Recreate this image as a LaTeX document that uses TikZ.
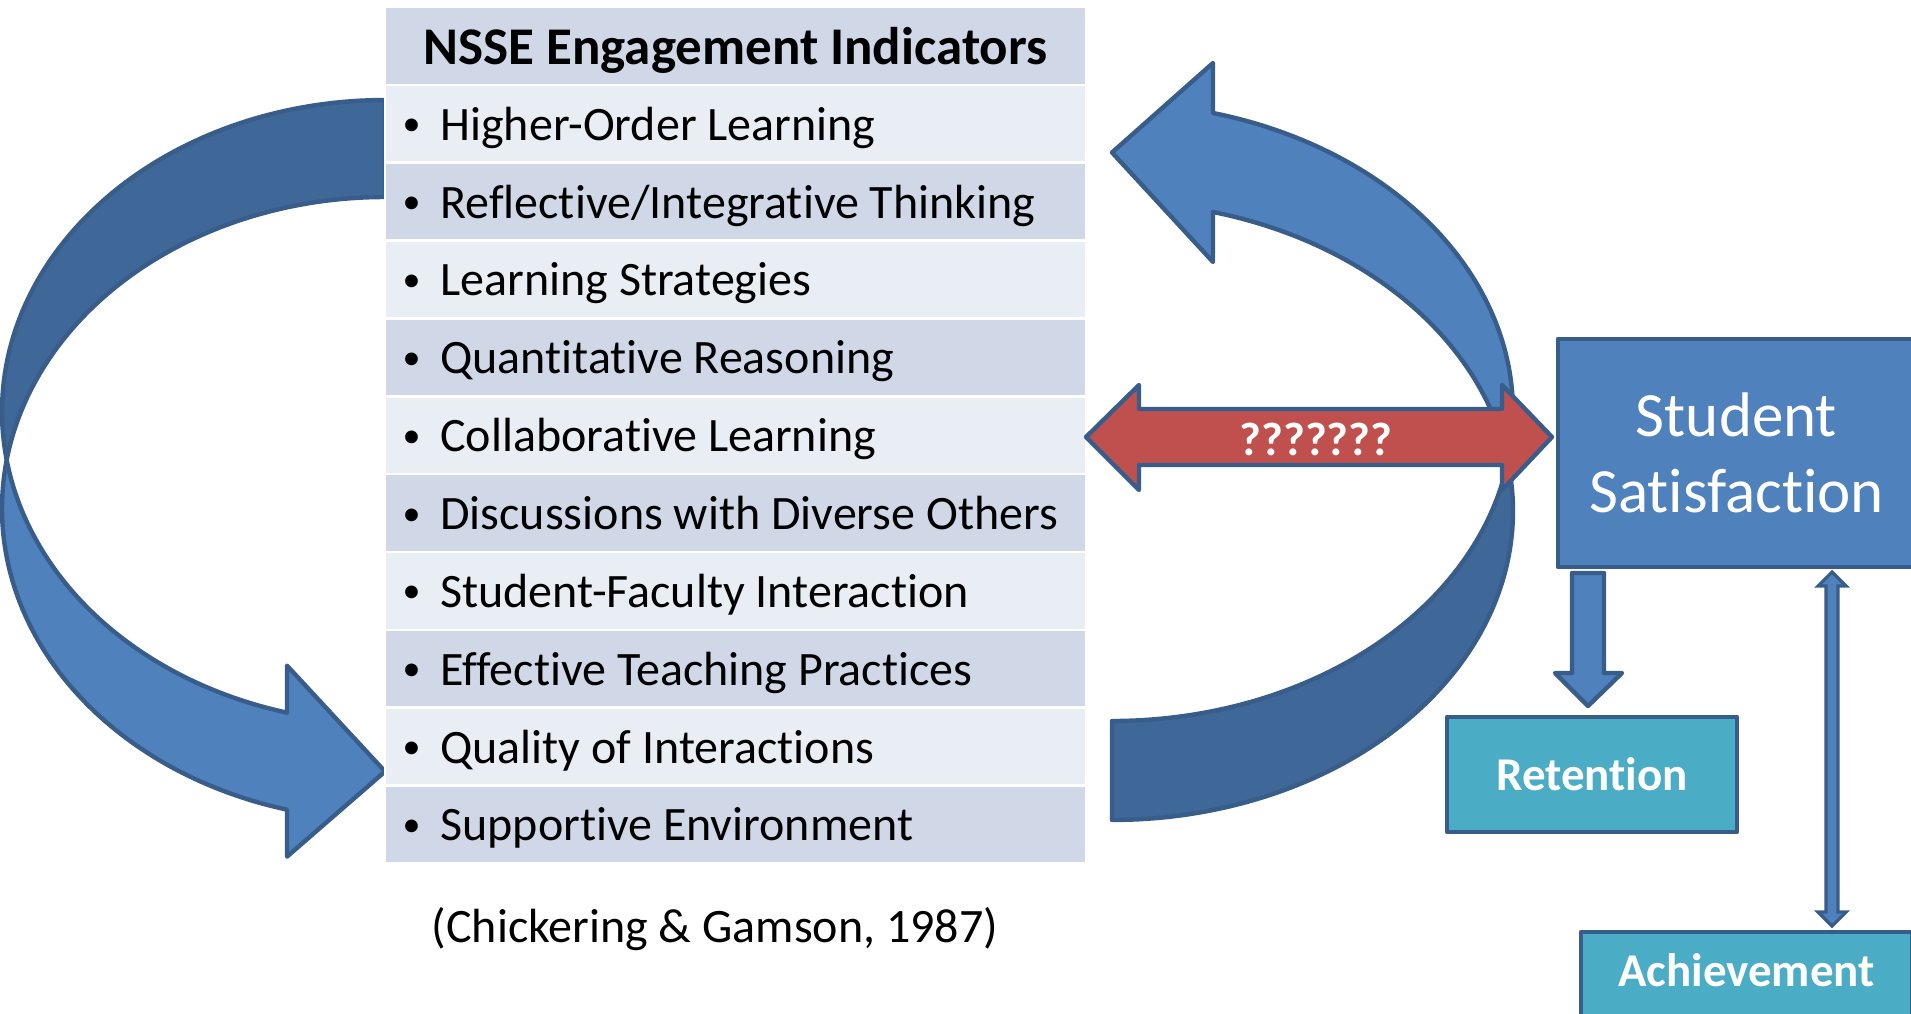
\documentclass[tikz,border=0pt]{standalone}
\usepackage{graphicx}
\usepackage{fontspec}
\setmainfont{Carlito}[RawFeature={-liga}]
\definecolor{frontblue}{HTML}{4F81BD}
\definecolor{backblue}{HTML}{3F6797}
\definecolor{edgeblue}{HTML}{385D8A}
\definecolor{tealbox}{HTML}{4BACC6}
\definecolor{redarrow}{HTML}{C0504D}
\definecolor{rowdark}{HTML}{D0D8E8}
\definecolor{rowlight}{HTML}{E9EDF4}

% Curved block arrow made of two equal half-ellipses shifted by the band thickness.
% #1 left x, #2 tail x, #3 tail top y, #4 band thickness, #5 head width,
% #6 head length, #7 vertical radius
\newcommand\bendarrow[7]{%
  \pgfmathsetmacro\bw{#2-#1}%
  \pgfmathsetmacro\cyU{#3+#7}%
  \pgfmathsetmacro\cyL{#3+#7+#4}%
  \pgfmathsetmacro\dl{asin(#4/(2*#7))}%
  \pgfmathsetmacro\aU{180-\dl}%
  \pgfmathsetmacro\aL{180+\dl}%
  \pgfmathsetmacro\ao{180-acos(#6/\bw)}%
  \pgfmathsetmacro\xa{#2-#6}%
  \pgfmathsetmacro\yin{\cyU+#7*sin(\ao)}%
  \pgfmathsetmacro\yout{\cyL+#7*sin(\ao)}%
  \pgfmathsetmacro\dh{(#5-#4)/2}%
  \pgfmathsetmacro\tipy{#3+2*#7+#4/2}%
  % back band (tail)
  \filldraw[outline,fill=backblue]
    plot[domain=270:\aU,samples=80,variable=\a] ({#2+\bw*cos(\a)},{\cyU+#7*sin(\a)})
    -- plot[domain=\aL:270,samples=80,variable=\a] ({#2+\bw*cos(\a)},{\cyL+#7*sin(\a)})
    -- cycle;
  % front band with the head
  \filldraw[outline,fill=frontblue]
    plot[domain=\aU:\ao,samples=80,variable=\a] ({#2+\bw*cos(\a)},{\cyU+#7*sin(\a)})
    -- (\xa,\yin-\dh) -- (#2,\tipy) -- (\xa,\yout+\dh)
    -- plot[domain=\ao:\aL,samples=80,variable=\a] ({#2+\bw*cos(\a)},{\cyL+#7*sin(\a)})
    -- cycle;
}

\begin{document}
\begin{tikzpicture}[x=0.5pt,y=-0.5pt,
  outline/.style={draw=edgeblue,line width=2.2pt,line join=round},
  rowbox/.style={draw=white,line width=1.25pt,minimum width=350.5pt,minimum height=38.925pt,inner sep=0},
  bodyfont/.style={font=\fontsize{24}{28}\selectfont},
  itemtxt/.style={bodyfont,anchor=base west,inner sep=0},
  bullettxt/.style={bodyfont,anchor=base,inner sep=0},
  boxlabel/.style={anchor=base,inner sep=0,text=white,font=\fontsize{23.5}{28}\selectfont\bfseries},
  resultbox/.style={outline,fill=tealbox,inner sep=0},
]
\useasboundingbox (0,0) rectangle (1911,1013);
\clip (0,0) rectangle (1911,1013);

% curved arrows around the list
\bendarrow{2}{385}{100}{97}{191}{98}{311.5}
\begin{scope}[rotate=180]
  \bendarrow{-1513}{-1112}{-820}{99}{199}{101}{309}
\end{scope}

% indicator table
\node[rowbox,fill=rowdark] (hdr) at (735.5,45.9) {};
\node[anchor=base,inner sep=0,font=\fontsize{26.5}{30}\selectfont\bfseries] (hdrtxt) at (735.5,64) {NSSE Engagement Indicators};
\foreach \txt [count=\i] in {Higher-Order Learning,Reflective/Integrative Thinking,Learning Strategies,Quantitative Reasoning,Collaborative Learning,Discussions with Diverse Others,Student-Faculty Interaction,Effective Teaching Practices,Quality of Interactions,Supportive Environment}{
  \pgfmathsetmacro\yc{7+(\i+0.5)*77.85}
  \ifodd\i
    \node[rowbox,fill=rowlight] (row\i) at (735.5,\yc) {};
  \else
    \node[rowbox,fill=rowdark] (row\i) at (735.5,\yc) {};
  \fi
  \node[bullettxt] (bul\i) at (411.7,\yc+16.5) {\raisebox{2.2pt}{\scalebox{0.75}{\textbullet}}};
  \node[itemtxt] (item\i) at (440,\yc+16.5) {\txt};
}
\node[bodyfont,anchor=base,inner sep=0] (cite) at (715,942) {(Chickering \& Gamson, 1987)};

% two-way question arrow
\filldraw[outline,fill=redarrow]
  (1086,437) -- (1139,385) -- (1139,409) -- (1502,409) -- (1502,385) -- (1552,437)
  -- (1502,490) -- (1502,465) -- (1139,465) -- (1139,490) -- cycle;
\node[boxlabel] (qq) at (1316,455) {???????};

% outcome boxes
\node[outline,fill=frontblue,minimum width=178.5pt,minimum height=114pt,inner sep=0] (sat) at (1736.5,453) {};
\node[anchor=base,inner sep=0,text=white,font=\fontsize{31.5}{38}\selectfont] (satA) at (1736.5,436.7) {Student};
\node[anchor=base,inner sep=0,text=white,font=\fontsize{31.5}{38}\selectfont] (satB) at (1736.5,512.7) {Satisfaction};

\node[resultbox,minimum width=145pt,minimum height=57.5pt] (ret) at (1592,774.5) {};
\node[boxlabel] (rettxt) at (1592,790) {Retention};

\node[resultbox,minimum width=165.5pt,minimum height=59pt] (ach) at (1746.5,991) {};
\node[boxlabel] (achtxt) at (1746.5,986) {Achievement};

% satisfaction -> retention
\filldraw[outline,fill=frontblue]
  (1572,573) -- (1604,573) -- (1604,673) -- (1622,673) -- (1588,706)
  -- (1555,673) -- (1572,673) -- cycle;
% satisfaction <-> achievement
\filldraw[draw=edgeblue,line width=1.6pt,line join=miter,fill=frontblue]
  (1832,572) -- (1846,586) -- (1838,586) -- (1838,912) -- (1846,912) -- (1832,926)
  -- (1818,912) -- (1826,912) -- (1826,586) -- (1818,586) -- cycle;
\end{tikzpicture}
\end{document}
